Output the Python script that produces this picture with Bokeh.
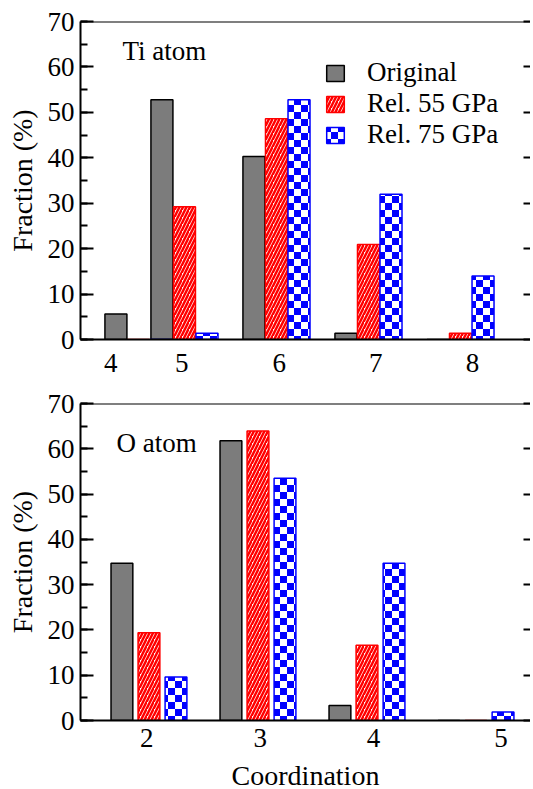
from bokeh.plotting import figure
from bokeh.models import (ColumnDataSource, LinearAxis, FixedTicker, SingleIntervalTicker,
                          Range1d, Legend, LegendItem, Label, CanvasTexture, Span,
                          CustomJSTickFormatter)
from bokeh.layouts import column
from bokeh.transform import dodge
from bokeh.core.properties import value
from bokeh.embed import file_html
from bokeh.resources import INLINE

FONT = "Liberation Serif"

# ---------------- data ----------------
series_labels = ["Original", "Rel. 55 GPa", "Rel. 75 GPa"]

ti_coord = ["4", "5", "6", "7", "8"]
ti_original = [5.6, 52.8, 40.3, 1.4, 0.0]
ti_rel55 = [0.0, 29.2, 48.6, 20.9, 1.4]
ti_rel75 = [0.0, 1.4, 52.8, 32.0, 14.0]

o_coord = ["2", "3", "4", "5"]
o_original = [34.7, 61.8, 3.3, 0.0]
o_rel55 = [19.4, 63.9, 16.6, 0.0]
o_rel75 = [9.6, 53.5, 34.7, 1.9]

y_max = 70
y_step = 10

# ---------------- layout (positions of groups / labels on the x axis) ----------------
ti_slot = [4.5, 5, 6, 7, 8]
ti_tick_pos = [4.2, 4.97, 6.03, 7.08, 8.13]
ti_xrange = (3.870, 8.761)
ti_bar_w, ti_off = 0.239, 0.245

o_slot = [2, 3, 4, 5]
o_tick_pos = [1.98, 3.02, 4.06, 5.23]
o_xrange = (1.372, 5.5)
o_bar_w, o_off = 0.2, 0.248

checker = CanvasTexture(code="""
const c = ctx.canvas;
c.width = 14;
c.height = 14;
ctx.fillStyle = "#ffffff";
ctx.fillRect(0, 0, 14, 14);
ctx.fillStyle = "#0000ff";
ctx.fillRect(0, 0, 7, 7);
ctx.fillRect(7, 7, 7, 7);
""")


def style_text_axis(ax):
    ax.major_label_text_font = FONT
    ax.major_label_text_font_size = "27px"
    ax.major_label_text_color = "black"
    ax.axis_label_text_font = FONT
    ax.axis_label_text_font_size = "28px"
    ax.axis_label_text_font_style = "normal"
    ax.axis_label_text_color = "black"


def make_fig(xr, frame_h, min_top, min_bottom, slots, tick_pos, labels,
             orig, r55, r75, bw, off, label_std, atom_text, atom_xy, with_legend,
             x_title=None):
    p = figure(frame_width=450, frame_height=frame_h,
               x_range=Range1d(*xr), y_range=Range1d(0, y_max),
               output_backend="svg", toolbar_location=None,
               min_border_left=80, min_border_right=0,
               min_border_top=min_top, min_border_bottom=min_bottom,
               outline_line_color=None, x_axis_type=None, y_axis_type=None)

    src = ColumnDataSource(dict(pos=slots, orig=orig, r55=r55, r75=r75))

    r0 = p.vbar(x=dodge("pos", -off, range=p.x_range), top="orig", width=bw, source=src,
                fill_color="#7c7c7c", line_color="black", line_width=1.5)
    r1 = p.vbar(x=dodge("pos", 0, range=p.x_range), top="r55", width=bw, source=src,
                fill_color="white", line_color="red", line_width=1.5,
                hatch_pattern="right_diagonal_line", hatch_color="red",
                hatch_scale=7, hatch_weight=2.5)
    r2 = p.vbar(x=dodge("pos", off, range=p.x_range), top="r75", width=bw, source=src,
                fill_color="white", line_color="blue", line_width=1.5,
                hatch_pattern=value("checker"), hatch_extra={"checker": checker},
                hatch_scale=14)

    ya = LinearAxis(ticker=SingleIntervalTicker(interval=y_step, num_minor_ticks=2))
    style_text_axis(ya)
    ya.axis_label = "Fraction (%)"
    ya.axis_label_standoff = 7
    ya.major_label_standoff = 6
    ya.major_tick_in = 13
    ya.major_tick_out = 0
    ya.minor_tick_in = 7
    ya.minor_tick_out = 0
    ya.axis_line_width = 2
    ya.major_tick_line_width = 2
    ya.minor_tick_line_width = 2
    p.add_layout(ya, "left")

    ra = LinearAxis(ticker=SingleIntervalTicker(interval=y_step, num_minor_ticks=2),
                    formatter=CustomJSTickFormatter(code="return ''"))
    ra.major_label_standoff = 0
    ra.major_tick_in = 7
    ra.major_tick_out = 0
    ra.minor_tick_in = 0
    ra.minor_tick_out = 0
    ra.axis_line_color = None
    ra.major_tick_line_width = 2
    p.add_layout(ra, "right")

    xa = LinearAxis(ticker=FixedTicker(ticks=tick_pos),
                    major_label_overrides={t: l for t, l in zip(tick_pos, labels)})
    style_text_axis(xa)
    xa.major_label_standoff = label_std
    xa.major_tick_in = 0
    xa.major_tick_out = 0
    xa.minor_tick_in = 0
    xa.minor_tick_out = 0
    xa.axis_line_width = 2
    if x_title:
        xa.axis_label = x_title
        xa.axis_label_standoff = 10
    p.add_layout(xa, "below")

    p.add_layout(Span(location=y_max, dimension="width", line_color="black", line_width=2))

    p.add_layout(Label(x=atom_xy[0], y=atom_xy[1], text=atom_text, text_font=FONT,
                       text_font_size="27px", text_color="black",
                       text_baseline="alphabetic"))

    if with_legend:
        legend = Legend(items=[LegendItem(label=series_labels[0], renderers=[r0]),
                               LegendItem(label=series_labels[1], renderers=[r1]),
                               LegendItem(label=series_labels[2], renderers=[r2])],
                        location=(244, 189), orientation="vertical",
                        glyph_width=22, glyph_height=20, label_standoff=21,
                        label_height=20, spacing=0, padding=0, margin=0,
                        border_line_color=None, background_fill_alpha=0,
                        label_text_font=FONT, label_text_font_size="27px",
                        label_text_color="black")
        p.add_layout(legend)
    return p


p_ti = make_fig(ti_xrange, 318, 21, 41, ti_slot, ti_tick_pos, ti_coord,
                ti_original, ti_rel55, ti_rel75, ti_bar_w, ti_off, 14,
                "Ti atom", (4.326, 63.6), True)

p_o = make_fig(o_xrange, 317, 23, 69, o_slot, o_tick_pos, o_coord,
               o_original, o_rel55, o_rel75, o_bar_w, o_off, 8,
               "O atom", (1.702, 61.2), False, x_title="Coordination")

layout = column(p_ti, p_o, spacing=0)

open("out.html", "w").write(file_html(layout, INLINE))
